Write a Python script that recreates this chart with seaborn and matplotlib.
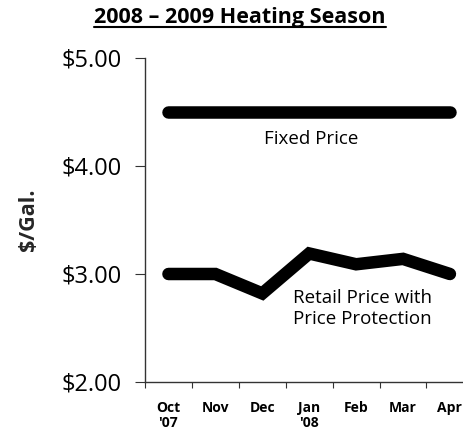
import matplotlib
matplotlib.use('Agg')
import matplotlib.pyplot as plt
import pandas as pd
import seaborn as sns
from matplotlib.lines import Line2D

months = ['Oct', 'Nov', 'Dec', 'Jan', 'Feb', 'Mar', 'Apr']
month_labels = ["Oct\n'07", 'Nov', 'Dec', "Jan\n'08", 'Feb', 'Mar', 'Apr']
retail_price = [3.00, 3.00, 2.82, 3.19, 3.09, 3.14, 3.00]
fixed_price = [4.50, 4.50, 4.50, 4.50, 4.50, 4.50, 4.50]
y_ticks = [2.0, 3.0, 4.0, 5.0]

sns.set_theme(style='white')
plt.rcParams['font.family'] = ['Open Sans', 'DejaVu Sans']
plt.rcParams['text.color'] = 'black'
plt.rcParams['xtick.color'] = 'black'
plt.rcParams['ytick.color'] = 'black'

df = pd.DataFrame({'month': months, 'x': range(len(months)),
                   'retail': retail_price, 'fixed': fixed_price})

fig = plt.figure(figsize=(4.64, 4.32), dpi=100)
ax = fig.add_axes([145 / 464, 1 - 382 / 432, 319 / 464, 324 / 432])

line_kw = dict(color='black', linewidth=9.0, solid_capstyle='round',
               solid_joinstyle='miter', ax=ax)
sns.lineplot(data=df, x='x', y='fixed', **line_kw)
sns.lineplot(data=df, x='x', y='retail', **line_kw)

ax.set_xlim(-0.5, 6.3)
ax.set_ylim(2, 5)
ax.set_yticks(y_ticks)
ax.set_yticklabels([f'${v:.2f}' for v in y_ticks], fontsize=17)
ax.set_xticks(range(len(months)))
ax.set_xticklabels(month_labels, fontsize=10, fontweight='bold',
                   linespacing=1.05, va='top')
ax.set_xticks([i - 0.5 for i in range(len(months))], minor=True)
ax.tick_params(axis='x', which='major', length=0, pad=14)
ax.tick_params(axis='x', which='minor', length=4, width=0.8,
               color='#333333', direction='out', bottom=True)
ax.tick_params(axis='y', length=7, width=0.8, color='#333333',
               direction='out', left=True, pad=10)

for side in ['top', 'right']:
    ax.spines[side].set_visible(False)
for side in ['left', 'bottom']:
    ax.spines[side].set_color('#333333')
    ax.spines[side].set_linewidth(1.0)

ax.set_xlabel('')
ax.set_ylabel('$/Gal.', fontsize=15.5, fontweight='bold')
ax.yaxis.set_label_coords(-106 / 319, 0.5)

ax.text(3.05, 4.25, 'Fixed Price', ha='center', va='center', fontsize=13.5)
ax.text(2.65, 2.86, 'Retail Price with\nPrice Protection', ha='left',
        va='top', fontsize=13.5, linespacing=1.2)

title = fig.text(240 / 464, 1 - 18 / 432, '2008 \u2013 2009 Heating Season',
                 ha='center', va='center', fontsize=15.5, fontweight='bold')
fig.canvas.draw()
bb = title.get_window_extent().transformed(fig.transFigure.inverted())
fig.add_artist(Line2D([bb.x0, bb.x1], [bb.y0 + 0.003, bb.y0 + 0.003],
                      color='black', linewidth=1.5,
                      transform=fig.transFigure))

fig.savefig('out.png', dpi=100)
